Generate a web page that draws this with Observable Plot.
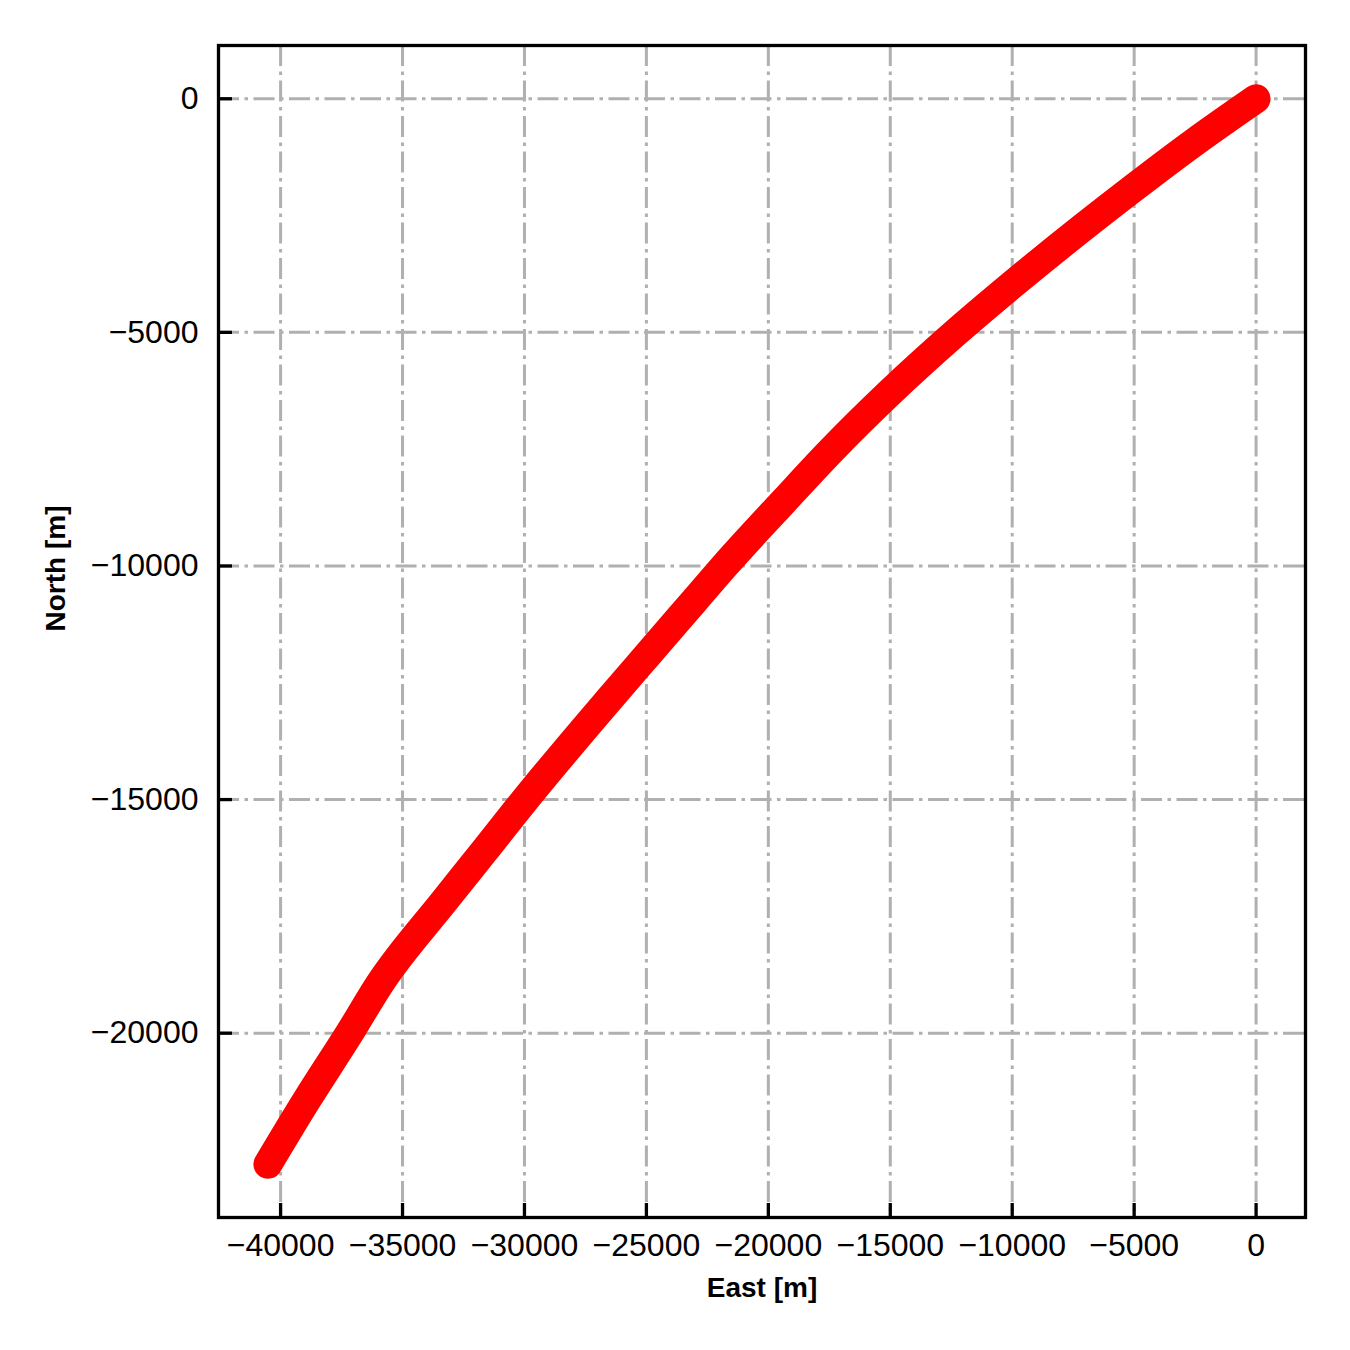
<!DOCTYPE html>
<html>
<head>
<meta charset="utf-8">
<script src="https://cdn.jsdelivr.net/npm/d3@7"></script>
<script src="https://cdn.jsdelivr.net/npm/@observablehq/plot@0.6"></script>
<style>
  html, body { margin: 0; padding: 0; background: #ffffff; }
  #chart svg { display: block; }
</style>
</head>
<body>
<div id="chart"></div>
<script>
// Track (East [m], North [m])
const east  = [0, -2530, -5000, -10000, -12435, -15006, -17425, -19340, -21800, -23030, -24980, -26580, -29971, -31640, -33280, -35945, -37175, -38950, -40520];
const north = [0,  -930, -1900,  -3980,  -5060,  -6283,  -7531,  -8600, -10000, -10743, -11921, -12890, -15000, -16096, -17167, -18951, -20000, -21450, -22805];

const xTicks = [-40000, -35000, -30000, -25000, -20000, -15000, -10000, -5000, 0];
const yTicks = [-20000, -15000, -10000, -5000, 0];

const xLabel = "East [m]";
const yLabel = "North [m]";

const track = east.map((e, i) => ({east: e, north: north[i]}));

const W = 1350, H = 1350;
const mL = 218, mR = 45, mT = 45, mB = 133;
const frameW = W - mL - mR, frameH = H - mT - mB;
const fmt = d3.format("d");
const gridStyle = {stroke: "#b0b0b0", strokeOpacity: 1, strokeWidth: 3, strokeDasharray: "21,5.5,3.5,5.5"};

const chart = Plot.plot({
  width: W,
  height: H,
  marginLeft: mL,
  marginRight: mR,
  marginTop: mT,
  marginBottom: mB,
  style: {fontFamily: "'Liberation Sans', Arial, sans-serif", fontSize: "32px", color: "#000", background: "#fff"},
  x: {domain: [-42546, 2026]},
  y: {domain: [-23945, 1140]},
  marks: [
    Plot.gridX(xTicks, gridStyle),
    Plot.gridY(yTicks, gridStyle),
    Plot.tickX(xTicks, {x: d => d, stroke: "#000", strokeWidth: 3.3, insetTop: frameH - 14}),
    Plot.tickY(yTicks, {y: d => d, stroke: "#000", strokeWidth: 3.3, insetRight: frameW - 14}),
    Plot.line(track, {x: "east", y: "north", stroke: "#ff0000", strokeWidth: 29, strokeLinecap: "round", strokeLinejoin: "round", curve: "monotone-x"}),
    Plot.frame({stroke: "#000", strokeWidth: 3.3}),
    Plot.axisX(xTicks, {tickSize: 0, tickPadding: 16, tickFormat: fmt, fontSize: 32, label: null}),
    Plot.axisY(yTicks, {tickSize: 0, tickPadding: 20, tickFormat: fmt, fontSize: 32, label: null}),
    Plot.text([xLabel], {text: d => d, frameAnchor: "bottom", dy: 71, lineAnchor: "middle", fontWeight: "bold", fontSize: 28}),
    Plot.text([yLabel], {text: d => d, frameAnchor: "left", dx: -162, rotate: -90, lineAnchor: "middle", fontWeight: "bold", fontSize: 28})
  ]
});
document.getElementById("chart").appendChild(chart);
</script>
</body>
</html>
